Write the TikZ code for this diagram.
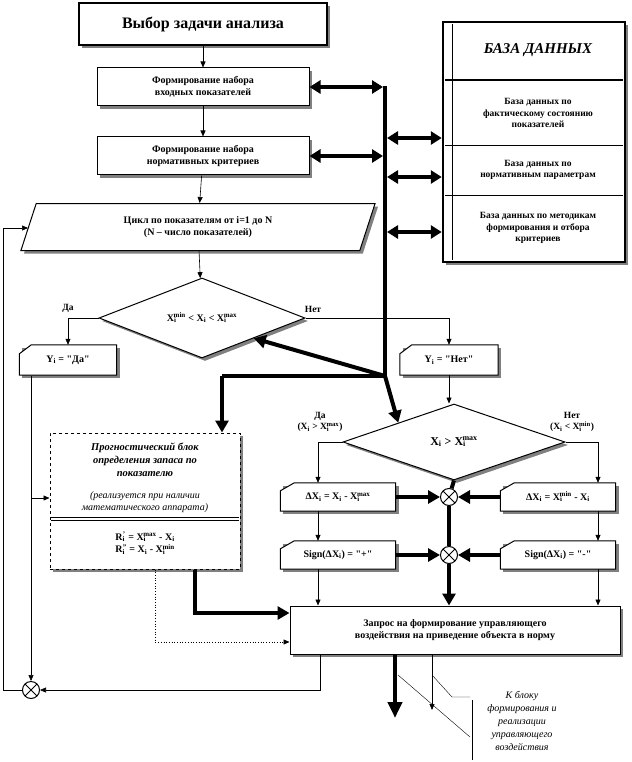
\documentclass[tikz,border=0pt]{standalone}
\usepackage{fontspec}
\setmainfont{Liberation Serif}
\usetikzlibrary{arrows.meta,shapes.geometric,shadows}
\newcommand{\qq}{\textquotedbl}
\newcommand{\Xs}[1]{X\textsubscript{i}\kern-0.28em\textsuperscript{#1}}
\begin{document}
\begin{tikzpicture}[x=1pt,y=-1pt,
  sh/.style={drop shadow={shadow xshift=3pt,shadow yshift=-3pt,fill=black!50,opacity=1}},
  box/.style={draw,line width=1pt,fill=white,sh,inner sep=0pt,align=center,font=\bfseries\fontsize{10}{12.5}\selectfont},
  cut/.style={inner sep=0pt,align=center,font=\bfseries\fontsize{10}{12}\selectfont},
  ar/.style={-{Triangle[length=6pt,width=5pt]},line width=0.6pt},
  tk/.style={line width=4pt},
  tka/.style={line width=4pt,-{Triangle[length=12pt,width=13pt]}},
  dba/.style={line width=4pt,{Triangle[length=11pt,width=13pt]}-{Triangle[length=11pt,width=13pt]}},
  cx/.style={circle,draw,line width=1pt,fill=white,minimum size=17pt,inner sep=0pt,
    path picture={\draw[line width=1pt] (path picture bounding box.south west)--(path picture bounding box.north east) (path picture bounding box.north west)--(path picture bounding box.south east);}},
  lbl/.style={font=\bfseries\fontsize{9.5}{11.5}\selectfont,align=center}
]
\useasboundingbox (0,0) rectangle (631,762);
% top boxes
\node[box,line width=2.5pt,minimum width=248pt,minimum height=42pt,font=\bfseries\fontsize{16}{18}\selectfont] (t) at (203,24) {Выбор задачи анализа};
\node[box,minimum width=212pt,minimum height=38pt] (b1) at (203,87) {Формирование набора\\входных показателей};
\node[box,minimum width=212pt,minimum height=38pt] (b2) at (203,156) {Формирование набора\\нормативных критериев};
\node[trapezium,trapezium left angle=72,trapezium right angle=108,draw,line width=1pt,fill=white,sh,
  minimum width=250pt,minimum height=47pt,inner sep=0pt,align=center,font=\bfseries\fontsize{10}{12.5}\selectfont] (cy) at (198,227) {Цикл по показателям от i=1 до N\\(N -- число показателей)};
\draw[ar] (t) -- (b1);
\draw[ar] (b1) -- (b2);
\draw[ar] (b2) -- (cy);
% diamond 1
\node[diamond,draw,line width=1pt,fill=white,sh,aspect=2.6,minimum width=206pt,minimum height=80pt,inner sep=0pt,
  font=\bfseries\fontsize{10}{12}\selectfont] (d1) at (202,318) {\Xs{min} < X\textsubscript{i} < \Xs{max}};
\draw[ar] (cy) -- (d1);
\node[cut,minimum width=97pt,minimum height=30pt] (ya) at (68,360) {};
\node[cut,minimum width=98pt,minimum height=30pt] (yn) at (449,360) {};
\foreach \n in {ya,yn}{
 \fill[black!50] ([shift={(3pt,-3pt)}]\n.south west) rectangle ([shift={(3pt,-3pt)}]\n.north east);
 \draw[line width=1pt,fill=white] (\n.south west) -- (\n.south east) -- (\n.north east) -- ([xshift=12pt]\n.north west) -- ([yshift=-9pt]\n.north west) -- cycle;}
\node[cut] at (ya) {Y\textsubscript{i} = \qq Да\qq};
\node[cut] at (yn) {Y\textsubscript{i} = \qq Нет\qq};
\draw[ar] (d1.west) -| (ya.north);
\draw[ar] (d1.east) -| (yn.north);
\node[lbl,anchor=south] at (68,316) {Да};
\node[lbl,anchor=south] at (313,316) {Нет};
% database
\node[draw,line width=2.5pt,fill=white,sh,minimum width=182pt,minimum height=240pt,inner sep=0pt] (db) at (534,142) {};
\draw[line width=2.5pt] (445,80) -- (623,80);
\draw[line width=0.6pt] (452,24) -- (452,260) (445,145)--(623,145) (445,195)--(623,195);
\node[font=\bfseries\itshape\fontsize{15}{17}\selectfont] (dbh) at (538,50) {БАЗА ДАННЫХ};
\node[lbl] (db1) at (538,113) {База данных по\\фактическому состоянию\\показателей};
\node[lbl] (db2) at (538,170) {База данных по\\нормативным параметрам};
\node[lbl] (db3) at (538,228) {База данных по методикам\\формирования и отбора\\критериев};
% bus
\coordinate (bt) at (385,86);
\coordinate (bj) at (385,376);
\coordinate (bl) at (222,376);
\draw[tk] (bt) -- (bj);
\draw[dba] (b1.east |- 0,87) -- (383,87);
\draw[dba] (b2.east |- 0,156) -- (383,156);
\draw[dba] (387,138) -- (db.west |- 0,138);
\draw[dba] (387,177) -- (db.west |- 0,177);
\draw[dba] (387,232) -- (db.west |- 0,232);
\draw[tk] (bj) -- (bl);
% diamond 2
\node[diamond,draw,line width=1pt,fill=white,sh,aspect=2.9,minimum width=222pt,minimum height=76pt,inner sep=0pt,
  font=\bfseries\fontsize{12}{14}\selectfont] (d2) at (454,442) {X\textsubscript{i} > \Xs{max}};
\draw[tka] (bj) -- (d1.south east);
\draw[tka] (bj) -- (d2.north west);
\draw[ar] (yn.south) -- (yn.south |- d2.north);
\node[lbl] at (320,422) {Да\\(X\textsubscript{i} > \Xs{max})};
\node[lbl] at (572,422) {Нет\\(X\textsubscript{i} < \Xs{min})};
% delta and sign boxes
\node[cut,minimum width=115pt,minimum height=28pt] (dl) at (338,497) {};
\node[cut,minimum width=115pt,minimum height=28pt] (dr) at (558,497) {};
\node[cut,minimum width=115pt,minimum height=28pt] (sl) at (338,555) {};
\node[cut,minimum width=115pt,minimum height=28pt] (sr) at (558,555) {};
\foreach \n in {dl,dr,sl,sr}{
 \fill[black!50] ([shift={(3pt,-3pt)}]\n.south west) rectangle ([shift={(3pt,-3pt)}]\n.north east);
 \draw[line width=1pt,fill=white] (\n.south west) -- (\n.south east) -- (\n.north east) -- ([xshift=14pt]\n.north west) -- ([yshift=-8pt]\n.north west) -- cycle;}
\node[cut] at (dl) {ΔX\textsubscript{i} = X\textsubscript{i} - \Xs{max}};
\node[cut] at (dr) {ΔX\textsubscript{i} = \Xs{min} - X\textsubscript{i}};
\node[cut] at (sl) {Sign(ΔX\textsubscript{i}) = \qq+\qq};
\node[cut] at (sr) {Sign(ΔX\textsubscript{i}) = \qq-\qq};
\draw[ar] (d2.west) -| (dl.north -| 318,0);
\draw[ar] (d2.east) -| (dr.north -| 598,0);
\draw[ar] (318,511) -- (sl.north -| 318,0);
\draw[ar] (598,511) -- (sr.north -| 598,0);
\node[cx] (c1) at (449,497) {};
\node[cx] (c2) at (449,555) {};
% request box
\node[box,minimum width=330pt,minimum height=48pt] (rq) at (455,630) {Запрос на формирование управляющего\\воздействия на приведение объекта в норму};
\draw[tk] (d2.south) -- (c1);
\draw[tk] (c1) -- (c2);
\draw[tka] (c2) -- (rq.north -| c2);
\draw[tka] (dl.east) -- (c1);
\draw[tka] (dr.west) -- (c1);
\draw[tka] (sl.east) -- (c2);
\draw[tka] (sr.west) -- (c2);
\draw[ar] (318,569) -- (rq.north -| 318,0);
\draw[ar] (598,569) -- (rq.north -| 598,0);
% prognostic block
\node[draw,dashed,line width=1pt,fill=white,sh,minimum width=190pt,minimum height=136pt,inner sep=0pt] (pb) at (145,501) {};
\node[font=\bfseries\itshape\fontsize{10.5}{13}\selectfont,align=center] (pt) at (145,460) {Прогностический блок\\определения запаса по\\показателю};
\node[font=\itshape\fontsize{10}{12}\selectfont,align=center] (pi) at (145,502) {(реализуется при наличии\\математического аппарата)};
\draw[line width=0.6pt] (51,517)--(239,517) (51,520)--(239,520);
\node[font=\bfseries\fontsize{10}{12.5}\selectfont,align=center] (pf) at (145,543) {R\textsubscript{i}\kern-0.2em\textsuperscript{'} = \Xs{max} - X\textsubscript{i}\\R\textsubscript{i}\kern-0.2em\textsuperscript{''} = X\textsubscript{i} - \Xs{min}};
\draw[tka] (bl) -- (pb.north -| bl);
\draw[tka] (pb.south -| 195,0) |- (rq.west |- 0,613);
\draw[dotted,line width=0.7pt,-{Triangle[length=6pt,width=5pt]}] (pb.south -| 155,0) |- (rq.west |- 0,642);
% loop
\node[cx] (c3) at (31,690) {};
\draw[ar] (31,376) -- (c3);
\draw[ar] (31,498) -- (pb.west |- 0,498);
\draw[ar] (rq.south -| 320,0) |- (c3);
\coordinate (lp) at (3,228);
\draw[ar] (c3.west) -| (lp) -- (cy.west |- lp);
% outputs
\coordinate (o1) at (395,718);
\coordinate (o2) at (432,710);
\draw[line width=4pt,-{Triangle[length=16pt,width=14pt]}] (rq.south -| o1) -- (o1);
\draw[ar] (rq.south -| o2) -- (o2);
\draw[line width=0.4pt] (398,675) -- (470,737);
\draw[line width=0.4pt] (432,675) -- (452,697) -- (470,697);
\draw[line width=0.4pt] (472,700) -- (472,760);
\node[font=\itshape\fontsize{10}{13}\selectfont,align=center] (ot) at (522,721) {К блоку\\формирования и\\реализации\\управляющего\\воздействия};
\end{tikzpicture}
\end{document}
